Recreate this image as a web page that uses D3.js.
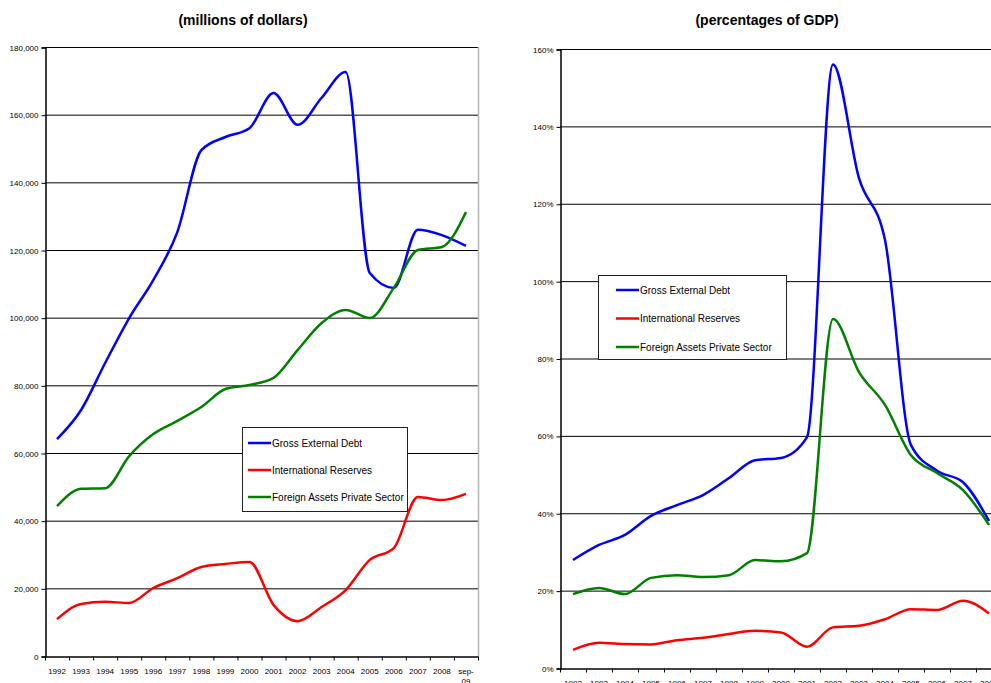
<!DOCTYPE html>
<html>
<head>
<meta charset="utf-8">
<script src="https://cdn.jsdelivr.net/npm/d3@7"></script>
<style>
body { margin: 0; background: #fff; }
svg text { font-family: "Liberation Sans", Arial, sans-serif; }
</style>
</head>
<body>
<div id="chart"></div>
<script>
// categories
var years = ["1992","1993","1994","1995","1996","1997","1998","1999","2000","2001","2002","2003","2004","2005","2006","2007","2008","sep-09"];

// left chart, millions of dollars
var debtUsd     = [64100, 72700, 86600, 99900, 111100, 125300, 149500, 153400, 156000, 166400, 157000, 165000, 172600, 113200, 108800, 126000, 124400, 121200];
var reservesUsd = [10900, 15400, 16000, 15700, 20100, 23000, 26300, 27200, 27800, 15100, 10300, 14500, 19500, 28400, 31900, 47000, 46100, 47900];
var assetsUsd   = [44300, 49400, 49600, 59100, 65600, 69500, 73600, 78900, 80100, 82200, 90400, 98400, 102300, 99900, 108800, 120000, 120900, 131200];
var usdTicks = [0, 20000, 40000, 60000, 80000, 100000, 120000, 140000, 160000, 180000];

// right chart, percentages of GDP (through 2008)
var debtGdp     = [27.9, 31.8, 34.4, 39.3, 42.1, 44.7, 49.1, 53.7, 54.3, 59.7, 156, 126.6, 110.6, 57.6, 51, 48, 38];
var reservesGdp = [4.7, 6.5, 6.2, 6.1, 7.2, 7.8, 8.8, 9.6, 9.2, 5.5, 10.5, 10.9, 12.6, 15.2, 15, 17.4, 14.1];
var assetsGdp   = [19.1, 20.7, 19.1, 23.3, 24.0, 23.5, 24.0, 27.9, 27.6, 29.7, 90.2, 76.5, 68, 55, 50.4, 46, 37];
var gdpTicks = [0, 20, 40, 60, 80, 100, 120, 140, 160];

var seriesNames = ["Gross External Debt", "International Reserves", "Foreign Assets Private Sector"];
var seriesColors = ["#0000ff", "#ff0000", "#008000"];

var svg = d3.select("#chart").append("svg").attr("width", 991).attr("height", 683);

function drawPanel(opt) {
	var g = svg.append("g");
	var x = d3.scaleBand().domain(years).range([opt.left, opt.right]);
	var y = d3.scaleLinear().domain([0, opt.max]).range([opt.bottom, opt.top]);

	// title
	g.append("text").attr("x", opt.titleX).attr("y", 25).attr("text-anchor", "middle")
		.style("font-size", "14px").style("font-weight", "bold").text(opt.title);

	// gridlines
	g.selectAll(".grid").data(opt.ticks.slice(1)).enter().append("line")
		.attr("x1", opt.left).attr("x2", opt.right)
		.attr("y1", function(d){ return y(d) + 0.5; }).attr("y2", function(d){ return y(d) + 0.5; })
		.attr("stroke", "#000").attr("stroke-width", 1);

	// right border
	g.append("line").attr("x1", opt.right + 0.5).attr("x2", opt.right + 0.5)
		.attr("y1", opt.top).attr("y2", opt.bottom).attr("stroke", "#b4b4b4").attr("stroke-width", 1.5);

	// y axis
	var ya = d3.axisLeft(y).tickValues(opt.ticks).tickSize(4).tickFormat(opt.fmt);
	var yg = g.append("g").attr("transform", "translate(" + (opt.left + 0.5) + ",0.5)").call(ya);
	yg.select(".domain").attr("stroke", "#000").attr("stroke-width", 1.5);
	yg.selectAll("text").style("font-size", "8px").attr("fill", "#000");

	// x axis
	var xa = d3.axisBottom(x).tickSize(0).tickFormat("");
	var xg = g.append("g").attr("transform", "translate(0," + (opt.bottom + 0.5) + ")").call(xa);
	xg.select(".domain").attr("stroke", "#000").attr("stroke-width", 1.5);
	var edges = years.map(function(d){ return x(d); }).concat([opt.right]);
	xg.selectAll(".edge").data(edges).enter().append("line")
		.attr("x1", function(d){ return d + 0.5; }).attr("x2", function(d){ return d + 0.5; })
		.attr("y1", 0).attr("y2", 4).attr("stroke", "#000");
	xg.selectAll(".lbl").data(years).enter().append("text")
		.attr("x", function(d){ return x(d) + x.bandwidth() / 2; })
		.attr("y", 17).attr("text-anchor", "middle").style("font-size", "8px").attr("fill", "#000")
		.each(function(d) {
			var t = d3.select(this);
			if (d.indexOf("-") > 0) {
				t.append("tspan").attr("x", t.attr("x")).text("sep-");
				t.append("tspan").attr("x", t.attr("x")).attr("dy", 10).text("09");
			} else {
				t.text(d);
			}
		});

	// lines
	var line = d3.line()
		.x(function(d, i){ return x(years[i]) + x.bandwidth() / 2; })
		.y(function(d){ return y(d); })
		.curve(d3.curveMonotoneX);
	opt.series.forEach(function(s, k) {
		g.append("path").datum(s).attr("fill", "none")
			.attr("stroke", seriesColors[k]).attr("stroke-width", 2.5)
			.attr("d", line);
	});

	// legend
	var lg = g.append("g").attr("transform", "translate(" + opt.legX + "," + opt.legY + ")");
	lg.append("rect").attr("x", 0.5).attr("y", 0.5).attr("width", opt.legW).attr("height", opt.legH)
		.attr("fill", "#fff").attr("stroke", "#222");
	seriesNames.forEach(function(n, k) {
		var yy = opt.legStep0 + k * opt.legStep;
		lg.append("line").attr("x1", opt.legLine0).attr("x2", opt.legLine0 + 23)
			.attr("y1", yy).attr("y2", yy).attr("stroke", seriesColors[k]).attr("stroke-width", 2.5);
		lg.append("text").attr("x", opt.legLine0 + 24).attr("y", yy + 3.5)
			.style("font-size", "10px").attr("fill", "#000").text(n);
	});
}

drawPanel({
	title: "(millions of dollars)", titleX: 243,
	left: 45, right: 478, top: 47, bottom: 656, max: 180000,
	ticks: usdTicks, fmt: d3.format(","),
	series: [debtUsd, reservesUsd, assetsUsd],
	legX: 242, legY: 427, legW: 165, legH: 84, legStep0: 16, legStep: 27, legLine0: 6
});

drawPanel({
	title: "(percentages of GDP)", titleX: 767,
	left: 560, right: 1028, top: 49, bottom: 668, max: 160,
	ticks: gdpTicks, fmt: function(d){ return d + "%"; },
	series: [debtGdp, reservesGdp, assetsGdp],
	legX: 598, legY: 275, legW: 188, legH: 84, legStep0: 15, legStep: 28.5, legLine0: 18
});
</script>
</body>
</html>
